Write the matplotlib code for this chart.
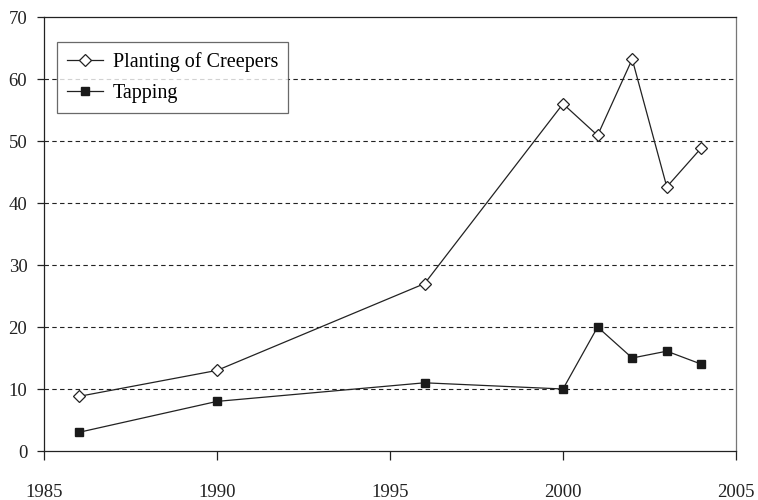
import numpy as np
from matplotlib import pyplot as plt

years_creepers = [1986, 1990, 1996, 2000, 2001, 2002, 2003, 2004]
creepers = [8.8, 13, 27, 56, 50.9, 63.2, 42.6, 48.9]
years_tapping = [1986, 1990, 1996, 2000, 2001, 2002, 2003, 2004]
tapping = [3, 8, 11, 10, 20, 15, 16.1, 14]

plt.rcParams['font.family'] = ['Liberation Serif', 'DejaVu Serif']
plt.rcParams['font.size'] = 13.5

fig = plt.figure(figsize=(7.58, 5.0), dpi=100)
ax = fig.add_axes([44 / 758, 49 / 500, 692 / 758, 434 / 500])

ax.plot(years_creepers, creepers, color='#222222', lw=0.9, marker='D',
        markersize=6.5, markerfacecolor='white', markeredgecolor='#222222',
        markeredgewidth=0.9, label='Planting of Creepers')
ax.plot(years_tapping, tapping, color='#222222', lw=0.9, marker='s',
        markersize=5.5, markerfacecolor='#1a1a1a', markeredgecolor='#1a1a1a',
        label='Tapping')

ax.set_xlim(1985, 2005)
ax.set_ylim(0, 70)
ax.set_xticks(np.arange(1985, 2006, 5))
ax.set_yticks(np.arange(0, 71, 10))
for y in range(10, 70, 10):
    ax.axhline(y, color='#222222', lw=0.8, ls=(0, (4, 3)), zorder=0)

ax.tick_params(axis='x', direction='out', length=6.5, width=0.9, pad=17,
               labelsize=13.5, colors='#222222')
ax.tick_params(axis='y', direction='out', length=5, width=0.9, pad=7,
               labelsize=13.5, colors='#222222')
for s in ax.spines.values():
    s.set_linewidth(0.9)
    s.set_color('#222222')
ax.spines['right'].set_color('#777777')

leg = ax.legend(loc='upper left', bbox_to_anchor=(0.019, 0.942), fontsize=14.5,
                frameon=True, fancybox=False, edgecolor='#444444',
                handlelength=1.8, handletextpad=0.45, borderpad=0.5,
                labelspacing=0.6, borderaxespad=0)
leg.get_frame().set_linewidth(0.9)

fig.savefig('out.png', dpi=100)
